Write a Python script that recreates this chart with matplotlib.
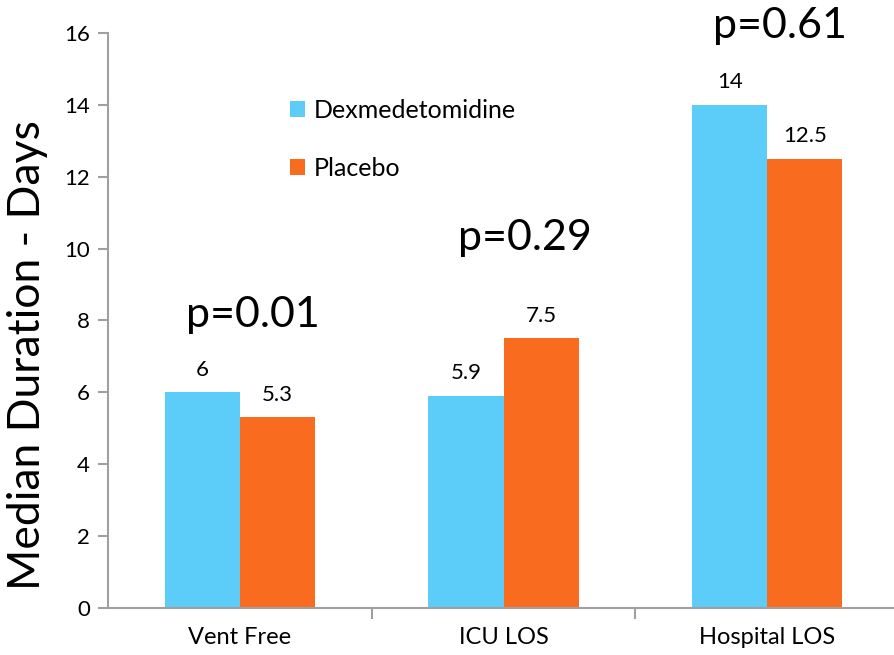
import numpy as np
import matplotlib
matplotlib.use('Agg')
import matplotlib.pyplot as plt

categories = ["Vent Free", "ICU LOS", "Hospital LOS"]
dexmed = [6, 5.9, 14]
placebo = [5.3, 7.5, 12.5]
dexmed_labels = ["6", "5.9", "14"]
placebo_labels = ["5.3", "7.5", "12.5"]
p_values = ["p=0.01", "p=0.29", "p=0.61"]
p_pos = [(0.05, 8.15), (1.08, 10.3), (2.05, 16.2)]

plt.rcParams['font.family'] = ['Lato', 'DejaVu Sans']

BLUE = "#5BCDF8"
ORANGE = "#F96C1F"
GRAY = "#A0A0A0"

fig = plt.figure(figsize=(8.94, 6.55), dpi=100)
ax = fig.add_axes([0.1208, 0.0718, 0.8848, 0.8779])

x = np.arange(len(categories))
w = 0.285
ax.bar(x - w / 2, dexmed, w, color=BLUE, label="Dexmedetomidine")
ax.bar(x + w / 2, placebo, w, color=ORANGE, label="Placebo")

for i in range(len(categories)):
    ax.text(x[i] - w / 2, dexmed[i] + 0.35, dexmed_labels[i], ha='center', va='bottom', fontsize=16)
    ax.text(x[i] + w / 2, placebo[i] + 0.35, placebo_labels[i], ha='center', va='bottom', fontsize=16)
    ax.text(p_pos[i][0], p_pos[i][1], p_values[i], ha='center', va='center', fontsize=31, clip_on=False)

ax.set_xlim(-0.5, 2.5)
ax.set_ylim(0, 16)
ax.set_yticks(range(0, 17, 2))
ax.tick_params(axis='y', labelsize=16, length=7, color=GRAY, width=1.5, direction='out', pad=6)
ax.set_xticks(x)
ax.set_xticklabels(categories)
ax.tick_params(axis='x', labelsize=17, length=0, pad=14)
ax.set_xticks([0.5, 1.5], minor=True)
ax.tick_params(axis='x', which='minor', length=8, color=GRAY, width=1.5, direction='out')

for side in ['top', 'right']:
    ax.spines[side].set_visible(False)
for side in ['left', 'bottom']:
    ax.spines[side].set_color(GRAY)
    ax.spines[side].set_linewidth(1.5)

ax.set_ylabel("Median Duration - Days", fontsize=32)
ax.yaxis.set_label_coords(-0.076, 0.44)

ax.legend(loc='upper left', bbox_to_anchor=(0.202, 0.925), frameon=False, fontsize=18,
          handlelength=0.6, handleheight=0.6, handletextpad=0.35, labelspacing=1.4)

fig.savefig("out.png", dpi=100)
